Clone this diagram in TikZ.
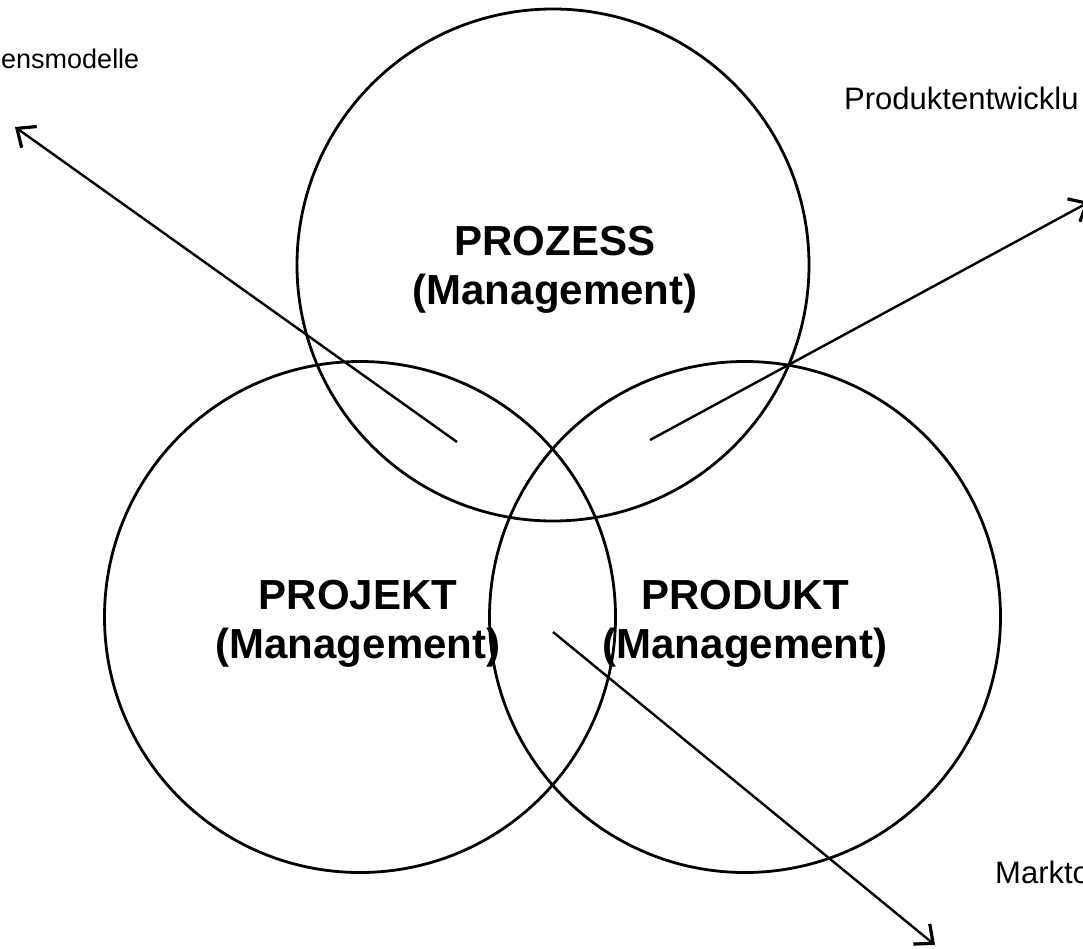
\documentclass[tikz,border=0pt]{standalone}
\usepackage{fontspec}
\setmainfont{Liberation Sans}
\usetikzlibrary{arrows.meta}

\tikzset{
	ring/.style={circle, draw, line width=2.8pt, minimum size=#1, inner sep=0pt},
	area/.style={font=\fontsize{42}{49}\selectfont\bfseries, align=center, inner sep=0pt},
	side/.style={font=\fontsize{#1}{#1}\selectfont, inner sep=0pt, anchor=base west}
}

\begin{document}
\begin{tikzpicture}[x=1pt, y=-1pt, line width=2.4pt, arrows={-Straight Barb[length=15pt,width=26pt,line width=3.2pt]}]
	\useasboundingbox (0,0) rectangle (1083,949);

	\node[ring=512pt] (PZ) at (553,265) {};
	\node[ring=511pt] (PJ) at (360,617) {};
	\node[ring=511pt] (PD) at (745,617) {};

	\node[area] (PZt) at (555,270) {PROZESS\\(Management)};
	\node[area] (PJt) at (358,624) {PROJEKT\\(Management)};
	\node[area] (PDt) at (745,624) {PRODUKT\\(Management)};

	\node[side=27] (VM) at (0,69) {ensmodelle};
	\node[side=31] (PE) at (843,110) {Produktentwicklu};
	\node[side=31] (MO) at (994,883) {Markto};

	\coordinate (s1) at (457,442);
	\coordinate (e1) at (15,127);
	\coordinate (s2) at (650,440);
	\coordinate (e2) at (1089,202);
	\coordinate (s3) at (553,632);
	\coordinate (e3) at (935,945);

	\draw (s1) to (e1);
	\draw (s2) to (e2);
	\draw (s3) to (e3);

\end{tikzpicture}
\end{document}
